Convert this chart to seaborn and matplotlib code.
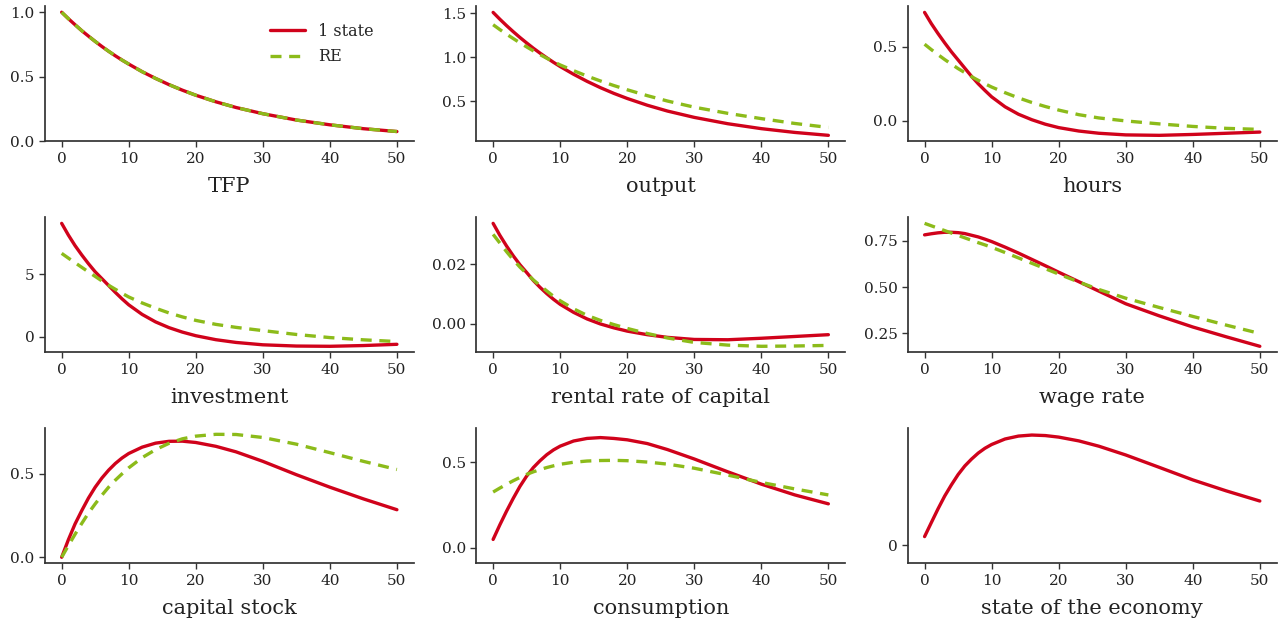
import numpy as np
import pandas as pd
import matplotlib.pyplot as plt
import seaborn as sns

t = [0, 1, 2, 3, 4, 5, 6, 7, 8, 9, 10, 12, 14, 16, 18, 20, 23, 26, 30, 35, 40, 45, 50]

tfp_one = [1.0, 0.95, 0.903, 0.857, 0.815, 0.774, 0.735, 0.698, 0.663, 0.63, 0.599,
           0.54, 0.488, 0.44, 0.397, 0.358, 0.307, 0.263, 0.215, 0.166, 0.129, 0.099, 0.077]
tfp_re = [1.0, 0.95, 0.903, 0.857, 0.815, 0.774, 0.735, 0.698, 0.663, 0.63, 0.599,
          0.54, 0.488, 0.44, 0.397, 0.358, 0.307, 0.263, 0.215, 0.166, 0.129, 0.099, 0.077]

output_one = [1.507, 1.43, 1.357, 1.288, 1.222, 1.16, 1.10, 1.044, 0.991, 0.94, 0.892,
              0.804, 0.724, 0.652, 0.587, 0.529, 0.452, 0.386, 0.314, 0.242, 0.186, 0.143, 0.11]
output_re = [1.367, 1.312, 1.26, 1.21, 1.161, 1.115, 1.07, 1.027, 0.986, 0.947, 0.91,
             0.845, 0.784, 0.728, 0.676, 0.628, 0.561, 0.50, 0.43, 0.36, 0.30, 0.245, 0.20]

hours_one = [0.73, 0.655, 0.588, 0.525, 0.465, 0.41, 0.355, 0.3, 0.25, 0.205, 0.162,
             0.095, 0.045, 0.008, -0.022, -0.045, -0.068, -0.083, -0.094, -0.097, -0.091, -0.083, -0.075]
hours_re = [0.516, 0.48, 0.446, 0.413, 0.382, 0.352, 0.325, 0.298, 0.273, 0.25, 0.228,
            0.19, 0.155, 0.124, 0.097, 0.073, 0.042, 0.02, 0.0, -0.02, -0.037, -0.05, -0.057]

invest_one = [9.09, 8.15, 7.3, 6.55, 5.85, 5.2, 4.65, 4.1, 3.55, 3.03, 2.55,
              1.78, 1.18, 0.72, 0.36, 0.07, -0.25, -0.47, -0.66, -0.76, -0.78, -0.72, -0.62]
invest_re = [6.68, 6.3, 5.93, 5.56, 5.19, 4.83, 4.47, 4.12, 3.8, 3.48, 3.18,
             2.7, 2.28, 1.9, 1.58, 1.3, 0.98, 0.74, 0.48, 0.17, -0.08, -0.26, -0.4]

rental_one = [0.0337, 0.0297, 0.0261, 0.0228, 0.0198, 0.0172, 0.0145, 0.0122, 0.0101, 0.0082, 0.0065,
              0.0038, 0.0016, -0.0001, -0.0014, -0.0025, -0.0037, -0.0046, -0.0053, -0.0054, -0.0049, -0.0043, -0.0037]
rental_re = [0.030, 0.0271, 0.0242, 0.0215, 0.019, 0.0168, 0.0147, 0.0128, 0.011, 0.0092, 0.0077,
             0.005, 0.0028, 0.0011, -0.0003, -0.0016, -0.0033, -0.0048, -0.0063, -0.0072, -0.0076, -0.0075, -0.0073]

wage_one = [0.781, 0.787, 0.792, 0.795, 0.795, 0.793, 0.788, 0.779, 0.77, 0.758, 0.745,
            0.715, 0.683, 0.649, 0.615, 0.58, 0.529, 0.478, 0.41, 0.345, 0.285, 0.232, 0.181]
wage_re = [0.843, 0.83, 0.817, 0.804, 0.791, 0.778, 0.765, 0.752, 0.739, 0.727, 0.714,
           0.686, 0.657, 0.628, 0.599, 0.57, 0.527, 0.487, 0.44, 0.39, 0.342, 0.295, 0.25]

capital_one = [0.0, 0.105, 0.2, 0.28, 0.355, 0.42, 0.475, 0.522, 0.562, 0.595, 0.622,
               0.66, 0.684, 0.695, 0.696, 0.688, 0.665, 0.632, 0.575, 0.495, 0.42, 0.35, 0.285]
capital_re = [0.0, 0.07, 0.138, 0.203, 0.265, 0.32, 0.372, 0.42, 0.462, 0.5, 0.536,
              0.597, 0.645, 0.683, 0.71, 0.726, 0.737, 0.736, 0.718, 0.678, 0.627, 0.575, 0.526]

cons_one = [0.05, 0.135, 0.215, 0.29, 0.36, 0.42, 0.47, 0.51, 0.545, 0.573, 0.595,
            0.625, 0.64, 0.645, 0.64, 0.632, 0.61, 0.575, 0.52, 0.445, 0.373, 0.31, 0.258]
cons_re = [0.327, 0.35, 0.372, 0.393, 0.412, 0.43, 0.445, 0.458, 0.47, 0.48, 0.489,
           0.501, 0.508, 0.511, 0.512, 0.51, 0.502, 0.49, 0.466, 0.426, 0.383, 0.345, 0.31]

state_one = [0.049, 0.13, 0.21, 0.285, 0.35, 0.41, 0.46, 0.5, 0.535, 0.563, 0.585,
             0.617, 0.634, 0.64, 0.637, 0.628, 0.606, 0.575, 0.524, 0.452, 0.379, 0.315, 0.256]

titles = ['TFP', 'output', 'hours', 'investment', 'rental rate of capital', 'wage rate',
          'capital stock', 'consumption', 'state of the economy']
series = [(tfp_one, tfp_re), (output_one, output_re), (hours_one, hours_re),
          (invest_one, invest_re), (rental_one, rental_re), (wage_one, wage_re),
          (capital_one, capital_re), (cons_one, cons_re), (state_one, None)]
yticks = [[0.0, 0.5, 1.0], [0.5, 1.0, 1.5], [0.0, 0.5], [0, 5], [0.00, 0.02],
          [0.25, 0.50, 0.75], [0.0, 0.5], [0.0, 0.5], [0]]
ytick_fmt = ['{:.1f}', '{:.1f}', '{:.1f}', '{:.0f}', '{:.2f}', '{:.2f}', '{:.1f}', '{:.1f}', '{:.0f}']

red = '#d0021b'
green = '#8cbb1a'

sns.set_theme(style='ticks')
plt.rcParams['font.family'] = ['DejaVu Serif']
plt.rcParams['axes.edgecolor'] = '#333333'

fig, axes = plt.subplots(3, 3, figsize=(12.83, 6.26), dpi=100)
fig.subplots_adjust(left=0.035, right=0.995, top=0.99, bottom=0.1, wspace=0.17, hspace=0.56)

for i, ax in enumerate(axes.flat):
    one, re = series[i]
    sns.lineplot(x=t, y=one, ax=ax, color=red, lw=2.4, label='1 state')
    if re is not None:
        sns.lineplot(x=t, y=re, ax=ax, color=green, lw=2.4, linestyle=(0, (3.3, 2.3)), label='RE')
    ax.set_xticks([0, 10, 20, 30, 40, 50])
    ax.set_yticks(yticks[i])
    ax.set_yticklabels([ytick_fmt[i].format(v) for v in yticks[i]])
    ax.tick_params(labelsize=11, length=4, width=1, color='#333333', labelcolor='#222222')
    ax.set_xlabel(titles[i], fontsize=15, color='#222222', labelpad=8)
    if i == 0:
        ax.legend(loc='upper right', bbox_to_anchor=(0.93, 0.985), frameon=False, fontsize=11.5,
                  handlelength=2.2, labelspacing=0.55)
    else:
        ax.get_legend().remove()
    sns.despine(ax=ax)

axes[2, 1].set_ylim(-0.09, 0.70)
axes[2, 2].set_ylim(-0.107, 0.68)

plt.savefig('out.png', dpi=100)
